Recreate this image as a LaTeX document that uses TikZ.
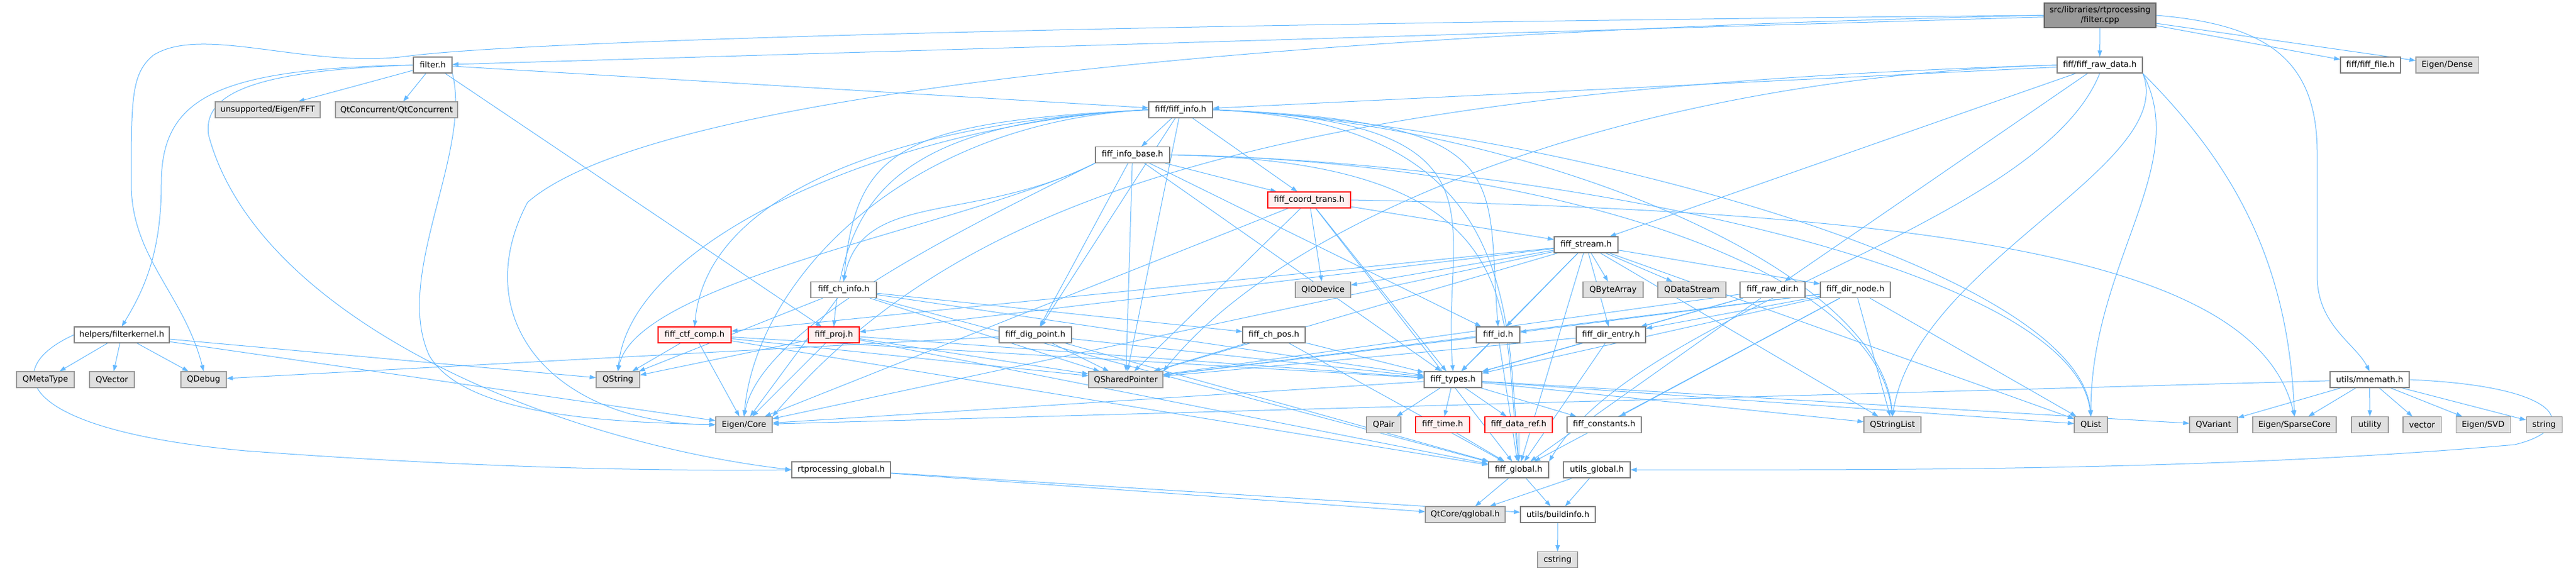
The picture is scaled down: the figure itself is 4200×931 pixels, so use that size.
\documentclass[tikz,border=0pt]{standalone}
\usepackage{fontspec}
\setmainfont{DejaVu Sans}
\usetikzlibrary{arrows.meta}
\definecolor{edgecol}{HTML}{63B8FF}
\definecolor{gfill}{HTML}{E0E0E0}
\definecolor{gdraw}{HTML}{999999}
\definecolor{wdraw}{HTML}{808080}
\definecolor{rfill}{HTML}{FFF0F0}
\definecolor{rdraw}{HTML}{FF0000}
\definecolor{rootfill}{HTML}{999999}
\definecolor{rootdraw}{HTML}{666666}
\pgfdeclarelayer{bg}
\pgfsetlayers{bg,main}
\tikzset{
  basebox/.style={rectangle, inner sep=0pt, minimum height=26pt, text=black, line width=1.1pt},
  wbox/.style={basebox, fill=white, draw=wdraw},
  gbox/.style={basebox, fill=gfill, draw=gdraw},
  rbox/.style={basebox, fill=rfill, draw=rdraw},
  rootbox/.style={basebox, fill=rootfill, draw=rootdraw, minimum height=40pt, align=center},
  edge/.style={draw=edgecol, line width=1pt, -{Triangle[length=10pt,width=7pt]}}
}
\begin{document}
\begin{tikzpicture}[x=1pt,y=-1pt,font=\fontsize{13.3}{15.5}\selectfont]
\useasboundingbox (0,0) rectangle (4200,931);
% row 0
\node[rootbox, minimum width=182pt] (fc) at (3424,25) {src/libraries/rtprocessing\\/filter.cpp};
% row 1
\node[wbox, minimum width=63pt] (fh) at (705.5,106) {filter.h};
\node[wbox, minimum width=139pt] (frd) at (3423.5,106) {fiff/fiff\_raw\_data.h};
\node[wbox, minimum width=98pt] (ffile) at (3865,106) {fiff/fiff\_file.h};
\node[gbox, minimum width=102pt] (edense) at (3990,106) {Eigen/Dense};
% row 2
\node[gbox, minimum width=171pt] (fft) at (436.5,179) {unsupported/Eigen/FFT};
\node[gbox, minimum width=199pt] (qtc) at (646.5,179) {QtConcurrent/QtConcurrent};
\node[wbox, minimum width=104pt] (finfo) at (1925,179) {fiff/fiff\_info.h};
% row 3
\node[wbox, minimum width=121pt] (fib) at (1846.5,252.5) {fiff\_info\_base.h};
% row 4
\node[rbox, minimum width=135pt] (fct) at (2134.5,326) {fiff\_coord\_trans.h};
% row 5
\node[wbox, minimum width=104pt] (fst) at (2586,399) {fiff\_stream.h};
% row 6
\node[wbox, minimum width=107pt] (fci) at (1375.5,472.5) {fiff\_ch\_info.h};
\node[gbox, minimum width=90pt] (qiod) at (2157,472.5) {QIODevice};
\node[gbox, minimum width=98pt] (qba) at (2630,472.5) {QByteArray};
\node[gbox, minimum width=111pt] (qds) at (2758.5,472.5) {QDataStream};
\node[wbox, minimum width=106pt] (frdir) at (2890,472.5) {fiff\_raw\_dir.h};
\node[wbox, minimum width=114pt] (fdn) at (3025,472.5) {fiff\_dir\_node.h};
% row 7
\node[wbox, minimum width=155pt] (ffk) at (198.5,546) {helpers/filterkernel.h};
\node[rbox, minimum width=119pt] (fcc) at (1132.5,546) {fiff\_ctf\_comp.h};
\node[rbox, minimum width=83pt] (fproj) at (1359.5,546) {fiff\_proj.h};
\node[wbox, minimum width=118pt] (fdp) at (1688,546) {fiff\_dig\_point.h};
\node[wbox, minimum width=102pt] (fcp) at (2077,546) {fiff\_ch\_pos.h};
\node[wbox, minimum width=71pt] (fid) at (2442.5,546) {fiff\_id.h};
\node[wbox, minimum width=113pt] (fde) at (2626.5,546) {fiff\_dir\_entry.h};
% row 8
\node[gbox, minimum width=94pt] (qmt) at (74,619) {QMetaType};
\node[gbox, minimum width=73pt] (qvec) at (182.5,619) {QVector};
\node[gbox, minimum width=74pt] (qdbg) at (332,619) {QDebug};
\node[gbox, minimum width=71pt] (qstr) at (1007.5,619) {QString};
\node[gbox, minimum width=121pt] (qsp) at (1835.5,619) {QSharedPointer};
\node[wbox, minimum width=94pt] (ftypes) at (2369,619) {fiff\_types.h};
\node[wbox, minimum width=129pt] (mnemath) at (3863.5,619) {utils/mnemath.h};
% row 9
\node[gbox, minimum width=92pt] (ecore) at (1213,692.5) {Eigen/Core};
\node[gbox, minimum width=56pt] (qpair) at (2256,692.5) {QPair};
\node[rbox, minimum width=88pt] (ftime) at (2352,692.5) {fiff\_time.h};
\node[rbox, minimum width=110pt] (fdr) at (2476,692.5) {fiff\_data\_ref.h};
\node[wbox, minimum width=121pt] (fconst) at (2615.5,692.5) {fiff\_constants.h};
\node[gbox, minimum width=93pt] (qsl) at (3085.5,692.5) {QStringList};
\node[gbox, minimum width=54pt] (qlist) at (3409,692.5) {QList};
\node[gbox, minimum width=78pt] (qvar) at (3609,692.5) {QVariant};
\node[gbox, minimum width=136pt] (esparse) at (3741,692.5) {Eigen/SparseCore};
\node[gbox, minimum width=60pt] (utility) at (3864,692.5) {utility};
\node[gbox, minimum width=62pt] (vector) at (3949,692.5) {vector};
\node[gbox, minimum width=89pt] (esvd) at (4048.5,692.5) {Eigen/SVD};
\node[gbox, minimum width=58pt] (string) at (4148,692.5) {string};
% row 10
\node[wbox, minimum width=161pt] (rtg) at (1371.5,766) {rtprocessing\_global.h};
\node[wbox, minimum width=98pt] (fglob) at (2476,766) {fiff\_global.h};
\node[wbox, minimum width=109pt] (uglob) at (2603.5,766) {utils\_global.h};
% row 11
\node[gbox, minimum width=130pt] (qglobal) at (2389,839) {QtCore/qglobal.h};
\node[wbox, minimum width=122pt] (binfo) at (2540,839) {utils/buildinfo.h};
% row 12
\node[gbox, minimum width=65pt] (cstring) at (2539.5,912.5) {cstring};

\begin{pgfonlayer}{bg}
% filter.cpp
\foreach \t in {fh,frd,ffile,edense} \draw[edge] (fc) -- (\t);
\draw[edge] (fc.east) .. controls (3700,40) and (3778,100) .. (3778,250) -- (3778,450) .. controls (3778,530) and (3840,560) .. (mnemath.north);
\draw[edge] (fc.west) .. controls (2200,35) and (900,60) .. (661,92) .. controls (500,112) and (330,40) .. (250,90) .. controls (214,120) and (214,160) .. (214,300) .. controls (214,420) and (300,480) .. (qdbg.north);
\draw[edge] (fc.west) .. controls (2400,45) and (1100,120) .. (860,330) .. controls (760,520) and (900,690) .. (ecore.west);
% filter.h
\foreach \t in {fft,qtc,finfo,fproj} \draw[edge] (fh) -- (\t);
\draw[edge] (fh.west) .. controls (350,112) and (263,160) .. (263,300) .. controls (263,420) and (230,480) .. (ffk.north);
\draw[edge] (fh.west) .. controls (420,115) and (330,150) .. (340,220) .. controls (420,520) and (900,720) .. (rtg.west);
\draw[edge] (fh.south east) .. controls (770,250) and (640,450) .. (700,580) .. controls (760,680) and (1000,688) .. (ecore.west);
% fiff_raw_data.h
\foreach \t in {finfo,fst,frdir} \draw[edge] (frd) -- (\t);
\draw[edge] (frd.south east) .. controls +(80,150) and +(0,-250) .. (qlist.north);
\draw[edge] (frd.south east) .. controls +(150,150) and +(-10,-250) .. (esparse.north);
\draw[edge] (frd.south east) .. controls +(60,150) and +(40,-250) .. (qsl.north);
\draw[edge] (frd.south) .. controls +(-100,250) and +(150,-250) .. (fglob.north east);
\draw[edge] (frd.west) .. controls +(-700,20) and +(200,-250) .. (qsp.north east);
\draw[edge] (frd.west) .. controls +(-1300,40) and +(300,-350) .. (ecore.north east);
% fiff_info.h
\foreach \t in {fib,fct,fdp,qsp} \draw[edge] (finfo) -- (\t);
\foreach \t in {fci,fcc,fproj,qstr,ecore} \draw[edge] (finfo.west) .. controls +(-400,20) and +(20,-220) .. (\t.north);
\foreach \t in {fid,fglob,ftypes,qsl,qlist} \draw[edge] (finfo.east) .. controls +(500,20) and +(-20,-250) .. (\t.north);
% fiff_info_base.h
\foreach \t in {fct,fdp,fid,ftypes,qsp} \draw[edge] (fib) -- (\t);
\foreach \t in {fci,qstr,ecore} \draw[edge] (fib.south west) .. controls +(-200,100) and +(30,-150) .. (\t.north);
\foreach \t in {qsl,qlist,fglob} \draw[edge] (fib.east) .. controls +(600,10) and +(-30,-250) .. (\t.north);
% fiff_coord_trans.h
\foreach \t in {fst,qiod,qsp,ecore,ftypes,fglob} \draw[edge] (fct) -- (\t);
\draw[edge] (fct.east) .. controls +(1000,20) and +(-60,-250) .. (esparse.north);
% fiff_stream.h
\foreach \t in {qiod,qba,qds,fdn,fid,fde,ftypes,qsp,ecore,qsl,qlist,fglob,fcc,fproj} \draw[edge] (fst) -- (\t);
% fiff_ch_info.h
\foreach \t in {fcp,ftypes,qsp,qstr,ecore,fglob} \draw[edge] (fci) -- (\t);
% fiff_ctf_comp.h
\foreach \t in {ecore,fglob,qsp,ftypes,qstr} \draw[edge] (fcc) -- (\t);
% fiff_proj.h
\foreach \t in {qstr,ecore,fglob,qsp,ftypes} \draw[edge] (fproj) -- (\t);
% fiff_dig_point.h
\foreach \t in {qsp,ftypes,qdbg,fglob} \draw[edge] (fdp) -- (\t);
% fiff_ch_pos.h, fiff_id.h, fiff_dir_entry.h
\foreach \t in {qsp,ftypes,fglob} {
  \draw[edge] (fcp) -- (\t);
  \draw[edge] (fid) -- (\t);
  \draw[edge] (fde) -- (\t);
}
% fiff_raw_dir.h
\foreach \t in {fde,ftypes,fglob,qsp} \draw[edge] (frdir) -- (\t);
% fiff_dir_node.h
\foreach \t in {fde,fid,ftypes,qsp,qsl,qlist,fglob,fconst} \draw[edge] (fdn) -- (\t);
% fiff_types.h
\foreach \t in {qpair,ftime,fdr,fconst,ecore,qsl,qlist,qvar} \draw[edge] (ftypes) -- (\t);
\draw[edge] (ftime) -- (fglob);
\draw[edge] (fdr) -- (fglob);
% globals
\foreach \s in {fglob,uglob,rtg} {
  \draw[edge] (\s) -- (qglobal);
  \draw[edge] (\s) -- (binfo);
}
\draw[edge] (binfo) -- (cstring);
% filterkernel.h
\foreach \t in {qmt,qvec,qdbg,qstr,ecore} \draw[edge] (ffk) -- (\t);
\draw[edge] (ffk.west) .. controls (0,600) and (20,700) .. (400,735) .. controls (800,765) and (1100,768) .. (rtg.west);
% mnemath.h
\foreach \t in {qvar,esparse,utility,vector,esvd,string,ecore} \draw[edge] (mnemath) -- (\t);
\draw[edge] (mnemath.east) .. controls (4190,630) and (4205,700) .. (4100,725) .. controls (3600,770) and (3000,766) .. (uglob.east);
\end{pgfonlayer}
\end{tikzpicture}
\end{document}
